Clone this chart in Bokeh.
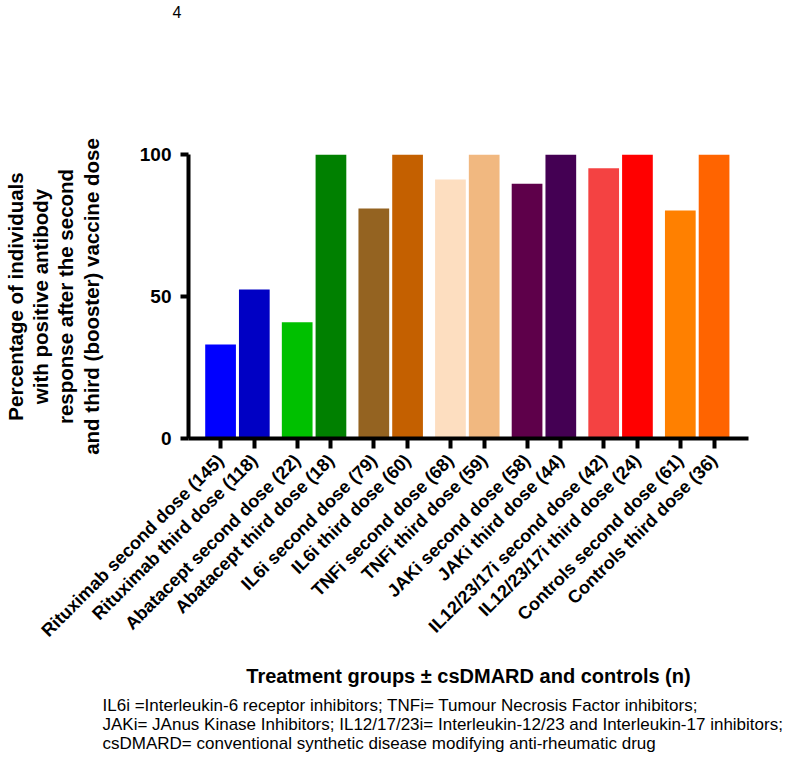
import math
from bokeh.plotting import figure
from bokeh.models import Range1d, FixedTicker, Title, ColumnDataSource
from bokeh.embed import file_html
from bokeh.resources import INLINE

# ---- data ----
groups = ["Rituximab second dose (145)", "Rituximab third dose (118)",
          "Abatacept second dose (22)", "Abatacept third dose (18)",
          "IL6i second dose (79)", "IL6i third dose (60)",
          "TNFi second dose (68)", "TNFi third dose (59)",
          "JAKi second dose (58)", "JAKi third dose (44)",
          "IL12/23/17i second dose (42)", "IL12/23/17i third dose (24)",
          "Controls second dose (61)", "Controls third dose (36)"]
percent_positive = [33.1, 52.5, 40.9, 100, 81.0, 100, 91.2, 100, 89.7, 100, 95.2, 100, 80.3, 100]
bar_colors = ["#0000FF", "#0000C4", "#00C000", "#008000", "#946321", "#C46000",
              "#FDDEC0", "#F1B880", "#5E004A", "#440053", "#F44242", "#FF0000",
              "#FF8000", "#FF6400"]
y_ticks = [0, 50, 100]
footnote_lines = [
    "IL6i =Interleukin-6 receptor inhibitors; TNFi= Tumour Necrosis Factor inhibitors;",
    "JAKi= JAnus Kinase Inhibitors; IL12/17/23i= Interleukin-12/23 and Interleukin-17 inhibitors;",
    "csDMARD= conventional synthetic disease modifying anti-rheumatic drug",
]

# positions: pairs of bars with a small gap between pairs
pos = [i * 100 + (i // 2) * 27 for i in range(len(groups))]
src = ColumnDataSource(dict(x=pos, top=percent_positive, color=bar_colors))

FONT = "Liberation Sans"

p = figure(width=799, height=758, output_backend="svg", toolbar_location=None,
           x_range=Range1d(-95, 1564), y_range=Range1d(0, 100),
           min_border_left=184, min_border_right=51, min_border_top=154,
           min_border_bottom=320)
p.outline_line_color = None
p.xgrid.grid_line_color = None
p.ygrid.grid_line_color = None
p.background_fill_color = "white"

# page number at the top (pushed outward by an empty spacer panel)
p.title.text = "4"
p.title.text_font = FONT
p.title.text_font_style = "normal"
p.title.text_font_size = "16px"
p.title.text_color = "black"
p.title.align = "left"
p.title.offset = -16
p.title.standoff = 0
spacer = Title(text=" ", text_font_size="1px", standoff=134)
p.add_layout(spacer, "above")

p.vbar(x="x", top="top", bottom=0, width=91, fill_color="color", line_color=None, source=src)

# y axis
ya = p.yaxis[0]
ya.ticker = FixedTicker(ticks=y_ticks)
ya.axis_line_width = 4
ya.major_tick_line_width = 4
ya.major_tick_out = 8
ya.major_tick_in = 0
ya.minor_tick_line_color = None
ya.major_label_text_font = FONT
ya.major_label_text_font_style = "bold"
ya.major_label_text_font_size = "19px"
ya.major_label_text_color = "black"
ya.major_label_standoff = 9
ya.axis_label = ("Percentage of individuals\nwith positive antibody\n"
                 "response after the second\nand third (booster) vaccine dose")
ya.axis_label_text_font = FONT
ya.axis_label_text_font_style = "bold"
ya.axis_label_text_font_size = "20.5px"
ya.axis_label_text_color = "black"
ya.axis_label_text_line_height = 1.1
ya.axis_label_standoff = 34

# x axis
xa = p.xaxis[0]
xa.ticker = FixedTicker(ticks=pos)
xa.major_label_overrides = {k: v for k, v in zip(pos, groups)}
xa.major_label_orientation = math.pi / 4
xa.axis_line_width = 4
xa.major_tick_line_width = 4
xa.major_tick_out = 10
xa.major_tick_in = 0
xa.minor_tick_line_color = None
xa.major_label_text_font = FONT
xa.major_label_text_font_style = "bold"
xa.major_label_text_font_size = "18px"
xa.major_label_text_color = "black"
xa.major_label_standoff = 9
xa.axis_label = "Treatment groups \u00b1 csDMARD and controls (n)"
xa.axis_label_text_font = FONT
xa.axis_label_text_font_style = "bold"
xa.axis_label_text_font_size = "20px"
xa.axis_label_text_color = "black"
xa.axis_label_standoff = 14

# footnote below the axis title
foot = Title(text="\n".join(footnote_lines), align="left", offset=-86, standoff=9,
             text_font=FONT, text_font_size="17px",
             text_font_style="normal", text_color="black", text_line_height=1.0)
p.add_layout(foot, "below")

open("out.html", "w").write(file_html(p, INLINE))
